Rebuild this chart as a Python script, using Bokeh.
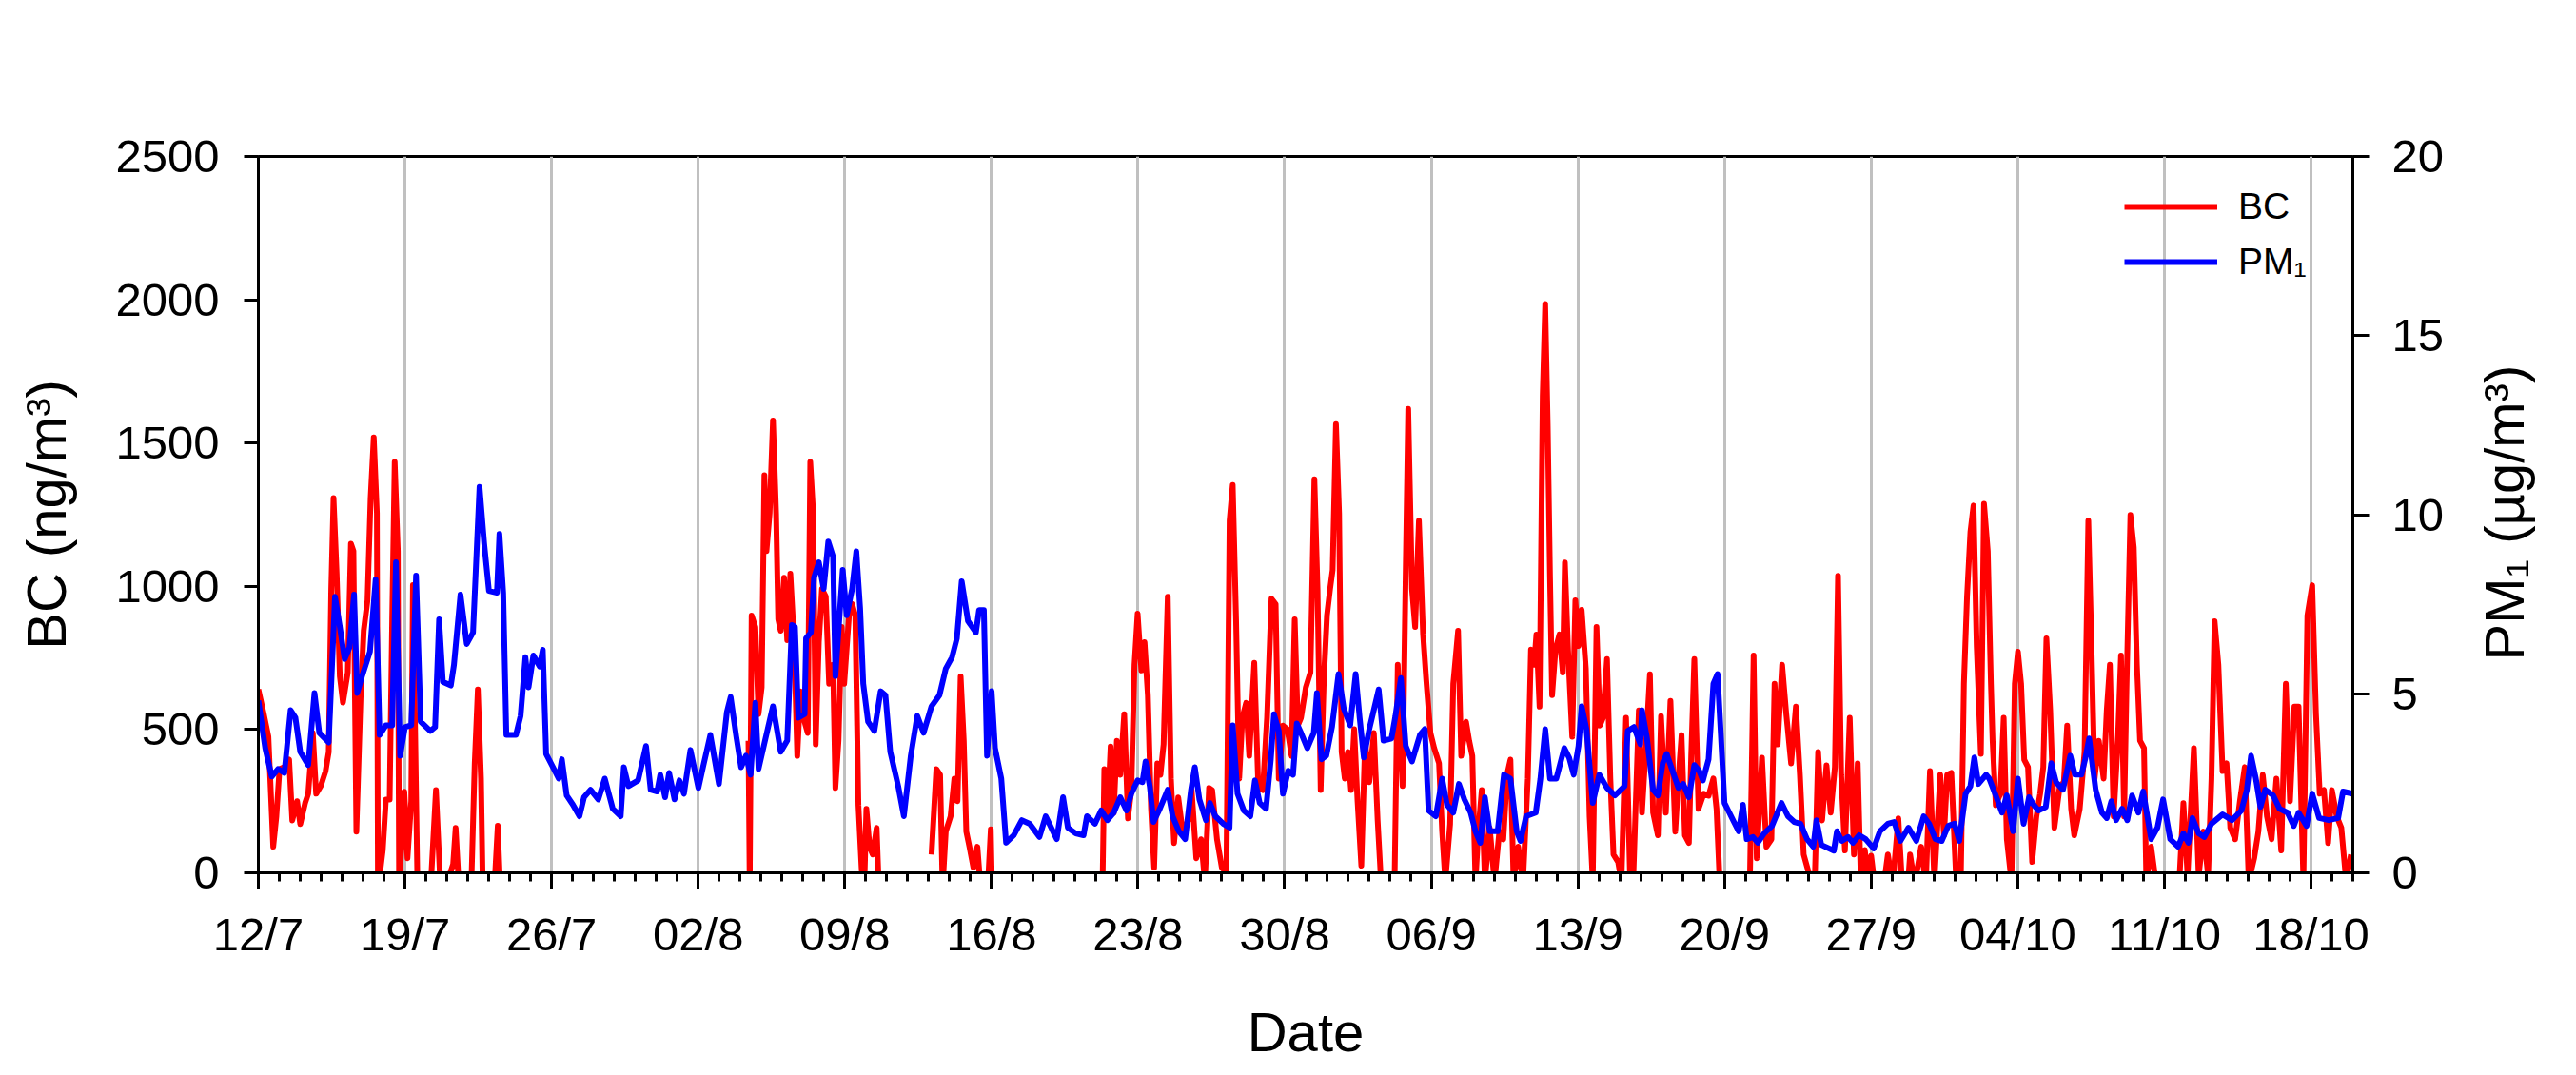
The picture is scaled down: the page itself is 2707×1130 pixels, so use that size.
import math
import numpy as np
from bokeh.plotting import figure
from bokeh.models import Range1d, LinearAxis, FixedTicker, Legend, LegendItem
from bokeh.embed import file_html
from bokeh.resources import INLINE

FONT = "Liberation Sans"

# ---------------- data (x = days since 12 July) ----------------
tick_days = [0, 7, 14, 21, 28, 35, 42, 49, 56, 63, 70, 77, 84, 91, 98]
tick_labels = ["12/7", "19/7", "26/7", "02/8", "09/8", "16/8", "23/8", "30/8",
               "06/9", "13/9", "20/9", "27/9", "04/10", "11/10", "18/10"]
bc_ticks = [0, 500, 1000, 1500, 2000, 2500]
pm_ticks = [0, 5, 10, 15, 20]

# Black carbon, ng/m3 (None = no data; values below 0 fall under the axis)
bc_day = [
    0.00, 0.26, 0.48, 0.71, 0.86, 1.01, 1.24, 1.47, 1.62, 1.85, 2.00, 2.23, 2.38, 2.60, 2.76,
    2.98, 3.21, 3.36, 3.48, 3.59, 3.74, 3.89, 4.04, 4.27, 4.42, 4.54, 4.68, 4.88, 5.03, 5.21,
    5.36, 5.51, 5.66, 5.71, 5.94, 6.09, 6.27, 6.39, 6.51, 6.66, 6.72, 6.97, 7.12, 7.30, 7.38,
    7.60, 7.95, 8.25, 8.48, 8.69, 8.95, 9.12, 9.30, 9.42, 9.57, 9.90, 10.18, 10.33, 10.48, 10.63,
    10.71, 11.00, 11.30, 11.43, 11.54, 11.60,
    23.40, 23.46, 23.55, 23.73, 23.88, 24.03, 24.16, 24.26, 24.41, 24.57, 24.72, 24.82, 24.94,
    25.10, 25.25, 25.40, 25.58, 25.73, 25.88, 26.08, 26.23, 26.35, 26.49, 26.61, 26.76, 26.91,
    27.09, 27.25, 27.44, 27.55, 27.70, 27.85, 27.97, 28.20, 28.35, 28.50, 28.65, 28.80, 28.91,
    29.03, 29.18, 29.33, 29.52, 29.64, 29.80,
    32.14, 32.37, 32.55, 32.67, 32.82, 33.05, 33.23, 33.38, 33.53, 33.68, 33.80, 33.95, 34.14,
    34.33, 34.48, 34.79, 34.97, 35.04, 35.20,
    40.31, 40.39, 40.54, 40.69, 40.84, 40.99, 41.15, 41.34, 41.52, 41.68, 41.83, 41.98, 42.16,
    42.31, 42.47, 42.62, 42.77, 42.92, 43.07, 43.22, 43.42, 43.57, 43.72, 43.92, 44.13, 44.40,
    44.56, 44.78, 45.01, 45.19, 45.39, 45.54, 45.77, 46.00, 46.22, 46.37, 46.52, 46.68, 46.83,
    46.98, 47.16, 47.31, 47.55, 47.74, 47.96, 48.16, 48.37, 48.57, 48.72, 48.92, 49.13, 49.33,
    49.48, 49.63, 49.78, 50.01, 50.23, 50.42, 50.57, 50.72, 50.87, 51.02, 51.17, 51.29, 51.45,
    51.60, 51.72, 51.87, 52.02, 52.17, 52.32, 52.48, 52.66, 52.84, 53.04, 53.26, 53.44, 53.60,
    53.95, 54.25, 54.40, 54.63, 54.78, 54.90, 55.08, 55.23, 55.41, 55.61, 55.76, 55.96, 56.14,
    56.37, 56.52, 56.67, 56.90, 57.05, 57.28, 57.43, 57.66, 57.81, 57.96, 58.11, 58.26, 58.41,
    58.56, 58.79, 59.02, 59.25, 59.44, 59.62, 59.78, 59.93, 60.15, 60.38, 60.61, 60.76, 60.91,
    61.02, 61.17, 61.32, 61.44, 61.56, 61.67, 61.77, 61.93, 62.12, 62.28, 62.38, 62.53, 62.73,
    62.88, 63.03, 63.18, 63.38, 63.56, 63.71, 63.89, 64.05, 64.20, 64.39, 64.55, 64.70, 64.92,
    65.08, 65.30, 65.50, 65.65, 65.91,
    66.06, 66.21, 66.44, 66.59, 66.82, 66.97, 67.20, 67.42, 67.65, 67.80, 67.95, 68.11, 68.30,
    68.41, 68.56, 68.76, 69.01, 69.24, 69.47, 69.62, 69.77, 70.05, 70.38, 70.60, 70.90, 71.21,
    71.39, 71.54, 71.79, 72.00, 72.24, 72.39, 72.54, 72.75, 72.95, 73.18, 73.41, 73.60, 73.78,
    74.06, 74.31, 74.47, 74.66, 74.87, 75.07, 75.27, 75.42, 75.57, 75.75, 75.98, 76.18, 76.36,
    76.51, 76.70, 76.85, 77.00, 77.15, 77.27, 77.50, 77.80, 78.03, 78.30, 78.48, 78.70, 78.86,
    79.08, 79.39, 79.61, 79.81, 80.02, 80.30, 80.48, 80.63, 80.83, 81.05, 81.28, 81.43, 81.58,
    81.74, 81.89, 82.04, 82.24, 82.39, 82.57, 82.72,
    82.80, 82.95, 83.17, 83.33, 83.48, 83.70, 83.86, 84.01, 84.16, 84.31, 84.49, 84.69, 84.89,
    85.07, 85.22, 85.37, 85.55, 85.75, 86.01, 86.20, 86.36, 86.55, 86.70, 86.96, 87.19, 87.37,
    87.52, 87.67, 87.87, 88.10, 88.25, 88.40, 88.58, 88.78, 88.93, 89.08, 89.19, 89.38, 89.54,
    89.69, 89.84, 90.03, 90.14, 90.37, 90.59, 90.90, 91.30, 91.58, 91.73, 91.91, 92.11, 92.41,
    92.64, 92.87, 93.09, 93.25, 93.40, 93.58, 93.78, 93.97, 94.15, 94.38, 94.61, 94.84, 95.03,
    95.29, 95.49, 95.70, 95.90, 96.12, 96.35, 96.58, 96.80, 97.00, 97.21, 97.41, 97.64, 97.83,
    98.06, 98.24, 98.42, 98.62, 98.82, 99.00, 99.23, 99.45, 99.68, 99.91,
]
bc_val = [
    640, 554, 475, 91, 197, 362, 369, 395, 183, 250, 170, 243, 276, 488, 276,
    303, 355, 422, 991, 1308, 1043, 686, 594, 700, 1149, 1123, 144, 607, 845, 951,
    1308, 1520, 1255, -60, 78, 256, 256, 885, 1434, 1123, -60, 283, 51, 250, 1004,
    -60, -150, -20, 289, -40, -150, -10, 30, 157, -40, -150, -10, 382, 640, 329,
    -40, -150, -10, 164, -40, None,
    461, -50, 898, 858, 554, 647, 1388, 1123, 1255, 1579, 1255, 885, 845,
    1030, 812, 1044, 805, 408, 633, 527, 488, 1434, 1255, 448, 805, 991,
    964, 660, 726, 296, 461, 858, 660, 898, 938, 898, 236, 18, -100,
    223, 91, 64, 157, -80, None,
    64, 362, 342, -50, 144, 197, 329, 250, 686, 461, 144, 91, 18,
    91, -50, -100, 152, -100, None,
    -20, 362, 197, 441, 210, 461, 342, 554, 190, 289, 726, 905, 706,
    805, 620, 223, 18, 382, 342, 448, 964, 329, 104, 263, 144, 183,
    289, 51, 117, -30, 296, 289, 117, 18, 0, 1229, 1354, 885, 329,
    541, 593, 408, 733, 303, 289, 541, 957, 938, 329, 514, 501, 408,
    885, 514, 541, 647, 699, 1374, 991, 289, 673, 898, 991, 1057, 1566,
    1255, 422, 329, 422, 289, 501, 250, 25, 461, 316, 488, 183, -30,
    -100, -20, 726, 303, 1057, 1619, 991, 858, 1229, 832, 673, 488, 435,
    382, 144, -30, 170, 660, 845, 408, 527, 461, 408, -30, 157, 289,
    -30, 157, -30, 144, 117, 342, 395, -30, 91, -30, 329, 779, 726,
    832, 580, 1665, 1985, 1559, 1030, 620, 779, 832, 699, 1083, 779, 475,
    951, 792, 918, 713, 197, -30, 858, 514, 541, 746, 329, 64, 38,
    -30, 541, -40, -10, 567,
    210, 395, 693, 210, 131, 547, 210, 600, 144, 329, 481, 131, 104,
    408, 746, 223, 276, 269, 329, 223, -30, -120, -20, -40, -150, -40,
    759, 51, 402, 91, 117, 660, 448, 726, 554, 382, 580, 342, 64,
    -10, -30, 422, 183, 375, 210, 369, 1037, 342, 78, 541, 64, 382,
    -40, 80, -30, 60, -30, -60, -100, 64, -40, 190, -40, -100, 64,
    -40, 91, -40, 355, -30, 342, 131, 342, 349, -10, -30, 660, 964,
    1189, 1282, 792, 415, 1288, 1123, 660,
    461, 236, 276, 541, 117, -30, 660, 772, 660, 395, 369, 38, 197,
    276, 369, 818, 567, 157, 303, 316, 514, 223, 131, 223, 422, 1229,
    792, 329, 461, 329, 567, 726, 197, 461, 759, 197, 633, 1249, 1136,
    726, 461, 435, -30, 91, -30, -100, -100, -60, -10, 243, -10, 435,
    -10, 144, -10, 329, 878, 726, 355, 382, 157, 117, 250, 369, -30,
    51, 144, 342, 197, 117, 329, 78, 660, 250, 580, 580, -30, 898,
    1004, 554, 276, 289, 104, 289, 197, 157, -30, 64,
]

# PM1, ug/m3
pm_day = [
    0.00, 0.33, 0.64, 0.94, 1.24, 1.54, 1.77, 2.00, 2.38, 2.68, 2.91, 3.36, 3.66, 3.89, 4.12,
    4.35, 4.57, 4.72, 4.95, 5.33, 5.60, 5.79, 6.09, 6.39, 6.57, 6.77, 7.00, 7.30, 7.53, 7.75,
    8.21, 8.44, 8.63, 8.81, 9.19, 9.34, 9.65, 9.95, 10.25, 10.56, 10.78, 11.01, 11.39, 11.51,
    11.69, 11.84, 12.30, 12.52, 12.75, 12.90, 13.13, 13.43, 13.58, 13.74, 14.11, 14.34, 14.49,
    14.72, 15.02, 15.33, 15.55, 15.86, 16.23, 16.54,
    16.92, 17.30, 17.45, 17.67, 18.13, 18.51, 18.73, 19.04, 19.19, 19.42, 19.61, 19.87, 20.10,
    20.32, 20.63, 21.01, 21.23, 21.58, 21.99, 22.37, 22.55, 22.82, 23.05, 23.28, 23.50, 23.73,
    23.88, 24.19, 24.57, 24.94, 25.25, 25.47, 25.62, 25.78, 26.08, 26.15, 26.38, 26.53, 26.76,
    26.99, 27.21, 27.44, 27.55, 27.90, 28.09, 28.35, 28.55, 28.73, 28.88, 29.11, 29.41, 29.71,
    29.94, 30.17, 30.55, 30.82, 31.15, 31.46, 31.76, 32.14, 32.52, 32.82,
    33.12, 33.35, 33.58, 33.88, 34.26, 34.41, 34.64, 34.79, 35.01, 35.17, 35.47, 35.70, 36.07,
    36.45, 36.83, 37.29, 37.59, 38.12, 38.42, 38.65, 39.03, 39.40, 39.56, 39.94, 40.24, 40.54,
    40.84, 41.15, 41.45, 41.68, 41.98, 42.21, 42.36, 42.56, 42.74, 43.04, 43.42, 43.65, 43.95,
    44.25, 44.53, 44.71, 44.93, 45.24, 45.43, 45.69, 46.07, 46.37, 46.52, 46.75, 47.05, 47.36,
    47.58, 47.81, 48.11, 48.34, 48.49, 48.72, 48.92, 49.17, 49.40, 49.58, 49.78,
    50.08, 50.39, 50.54, 50.76, 50.99, 51.26, 51.57, 51.82, 52.13, 52.39, 52.58, 52.78, 53.04,
    53.49, 53.72, 54.10, 54.29, 54.55, 54.78, 55.08, 55.46, 55.69, 55.87, 56.22, 56.52, 56.75,
    57.05, 57.32, 57.58, 57.88, 58.11, 58.34, 58.56, 58.79, 59.17, 59.47, 59.78, 60.08, 60.26,
    60.53, 60.99, 61.21, 61.44, 61.67, 61.97, 62.35, 62.58, 62.80, 63.03, 63.18, 63.41, 63.71,
    64.02, 64.39, 64.77, 65.23, 65.38, 65.68, 65.98,
    66.06, 66.29, 66.59, 66.82, 67.05, 67.24, 67.58, 67.80, 68.03, 68.30, 68.56, 68.79, 68.97,
    69.24, 69.47, 69.67, 69.85, 70.00, 70.23, 70.45, 70.68, 70.88, 71.06, 71.36, 71.59, 71.89,
    72.27, 72.72, 73.03, 73.33, 73.63, 73.94, 74.24, 74.39, 74.62, 75.00, 75.22, 75.37, 75.60,
    75.90, 76.13, 76.43, 76.74, 77.12, 77.42, 77.80, 78.10, 78.40, 78.78, 79.16, 79.51, 79.77,
    80.07, 80.37, 80.68, 80.98, 81.21, 81.51, 81.74, 81.93, 82.12, 82.49,
    82.64, 82.95, 83.25, 83.48, 83.78, 84.01, 84.28, 84.54, 84.76, 84.99, 85.34, 85.60, 85.83,
    86.16, 86.51, 86.73, 87.04, 87.22, 87.41, 87.72, 88.02, 88.25, 88.47, 88.70, 88.98, 89.23,
    89.46, 89.76, 89.99, 90.37, 90.67, 90.94, 91.28, 91.66, 91.91, 92.15, 92.34, 92.64, 92.91,
    93.25, 93.78, 94.23, 94.68, 94.94, 95.14, 95.37, 95.59, 95.82, 96.20, 96.50, 96.88, 97.18,
    97.41, 97.79, 98.06, 98.39, 98.85, 99.30, 99.53, 99.98,
]
pm_val = [
    4.81, 3.48, 2.69, 2.90, 2.79, 4.54, 4.33, 3.38, 3.01, 5.02, 3.91, 3.64, 7.71, 6.87, 5.97,
    6.29, 7.77, 5.02, 5.49, 6.18, 8.19, 3.85, 4.12, 4.12, 8.67, 3.27, 4.07, 4.12, 8.30, 4.22,
    3.96, 4.07, 7.08, 5.33, 5.23, 5.81, 7.77, 6.39, 6.71, 10.78, 9.20, 7.87, 7.82, 9.46,
    7.82, 3.85, 3.85, 4.38, 6.02, 5.18, 6.07, 5.76, 6.23, 3.32, 2.90, 2.63, 3.17,
    2.16, 1.90, 1.58, 2.11, 2.32, 2.05, 2.63,
    1.79, 1.58, 2.95, 2.42, 2.58, 3.54, 2.32, 2.27, 2.74, 2.11, 2.79, 2.05, 2.58,
    2.21, 3.43, 2.37, 2.95, 3.85, 2.48, 4.49, 4.91, 3.80, 2.95, 3.27, 2.74, 4.75,
    2.90, 3.69, 4.65, 3.38, 3.69, 6.92, 6.87, 4.33, 4.43, 6.55, 6.71, 8.24, 8.67,
    7.93, 9.25, 8.83, 5.49, 8.46, 7.19, 7.93, 8.98, 7.40, 5.28, 4.22, 3.96, 5.07,
    4.96, 3.38, 2.42, 1.58, 3.27, 4.38, 3.91, 4.65, 4.96, 5.70,
    6.02, 6.55, 8.14, 7.03, 6.71, 7.34, 7.34, 3.27, 5.07, 3.48, 2.63, 0.84, 1.05,
    1.47, 1.37, 1.00, 1.58, 0.94, 2.11, 1.26, 1.10, 1.05, 1.58, 1.37, 1.74, 1.47,
    1.68, 2.11, 1.74, 2.21, 2.58, 2.53, 3.11, 2.42, 1.42, 1.79, 2.32, 1.58, 1.16,
    0.94, 2.32, 2.95, 2.05, 1.47, 1.95, 1.58, 1.37, 1.26, 4.12, 2.21, 1.74, 1.58,
    2.58, 1.95, 1.79, 3.17, 4.43, 3.96, 2.21, 2.85, 2.74, 4.17, 3.91,
    3.48, 3.91, 5.02, 3.17, 3.27, 4.07, 5.55, 4.59, 4.12, 5.55, 4.33, 3.22, 4.01,
    5.12, 3.69, 3.75, 4.38, 5.44, 3.54, 3.11, 3.85, 4.01, 1.74, 1.58, 2.63, 1.90,
    1.68, 2.48, 2.05, 1.68, 1.16, 0.84, 2.11, 1.16, 1.16, 2.74, 2.63, 1.16, 0.89,
    1.58, 1.68, 2.63, 4.01, 2.63, 2.63, 3.48, 3.22, 2.74, 3.54, 4.65, 4.01, 1.95,
    2.74, 2.37, 2.16, 2.42, 3.96, 4.07, 3.59,
    4.54, 3.80, 2.32, 2.16, 3.06, 3.32, 2.74, 2.37, 2.48, 2.11, 3.01, 2.85, 2.58,
    3.17, 5.28, 5.55, 3.59, 1.95, 1.68, 1.42, 1.16, 1.90, 0.94, 1.00, 0.84, 1.10,
    1.31, 1.95, 1.58, 1.42, 1.37, 0.94, 0.73, 1.47, 0.78, 0.68, 0.62, 1.16, 0.89,
    1.00, 0.84, 1.05, 0.94, 0.68, 1.16, 1.37, 1.42, 0.89, 1.26, 0.89, 1.58, 1.37,
    0.94, 0.89, 1.31, 1.37, 0.89, 2.21, 2.42, 3.22, 2.48, 2.74,
    2.63, 2.16, 1.68, 2.16, 1.16, 2.63, 1.37, 2.11, 1.90, 1.74, 1.84, 3.06, 2.53,
    2.32, 3.27, 2.74, 2.74, 3.17, 3.75, 2.32, 1.68, 1.53, 2.00, 1.47, 1.79, 1.47,
    2.16, 1.68, 2.27, 0.94, 1.26, 2.05, 0.94, 0.73, 1.10, 0.84, 1.53, 1.10, 1.00,
    1.37, 1.63, 1.47, 1.74, 2.32, 3.27, 2.63, 1.84, 2.32, 2.16, 1.79, 1.68, 1.31,
    1.68, 1.31, 2.21, 1.53, 1.47, 1.53, 2.27, 2.21,
]

# ---------------- layout constants ----------------
W, H = 2707, 1130
FL, FR, FT, FB = 271, 2472, 164, 917          # frame edges in px
X0, X1 = 0, 100
Y0, Y1 = 0, 2500
P0, P1 = 0, 20

p = figure(width=W, height=H, output_backend="svg", toolbar_location=None,
           x_range=Range1d(X0, X1), y_range=Range1d(Y0, Y1),
           min_border_left=FL, min_border_right=W - FR,
           min_border_top=FT, min_border_bottom=H - FB)
p.extra_y_ranges = {"pm": Range1d(P0, P1)}
p.background_fill_color = "white"
p.border_fill_color = "white"
p.outline_line_color = "black"
p.outline_line_width = 3

r_bc = p.line(np.array(bc_day, dtype=float), np.array(bc_val, dtype=float),
              line_color="#ff0000", line_width=6, line_join="round")
r_pm = p.line(np.array(pm_day, dtype=float), np.array(pm_val, dtype=float),
              line_color="#0000ff", line_width=6, line_join="round", y_range_name="pm")

right = LinearAxis(y_range_name="pm")
p.add_layout(right, "right")

xa = p.xaxis[0]
ya = p.yaxis[0]
xa.ticker = FixedTicker(ticks=tick_days, minor_ticks=list(range(0, 101)))
xa.major_label_overrides = {d: lab for d, lab in zip(tick_days, tick_labels)}
ya.ticker = FixedTicker(ticks=bc_ticks, minor_ticks=[])
right.ticker = FixedTicker(ticks=pm_ticks, minor_ticks=[])

for ax in (xa, ya, right):
    ax.axis_line_width = 3
    ax.axis_line_color = "black"
    ax.major_tick_line_width = 3
    ax.major_tick_line_color = "black"
    ax.major_tick_in = 0
    ax.major_label_text_font = FONT
    ax.major_label_text_font_size = "49px"
    ax.major_label_text_color = "black"
    ax.axis_label_text_font = FONT
    ax.axis_label_text_font_size = "58px"
    ax.axis_label_text_font_style = "normal"
    ax.axis_label_text_color = "black"

xa.major_tick_out = 17
xa.minor_tick_out = 9
xa.minor_tick_in = 0
xa.minor_tick_line_width = 3
xa.minor_tick_line_color = "black"
xa.major_label_standoff = 20
xa.axis_label = "Date"
xa.axis_label_standoff = 40

ya.major_tick_out = 15
ya.minor_tick_line_color = None
ya.major_label_standoff = 26
ya.axis_label = "BC (ng/m³)"
ya.axis_label_standoff = 37

right.major_tick_out = 17
right.minor_tick_line_color = None
right.major_label_standoff = 24

# Right-hand title, reading bottom-to-top like the left one.  It is drawn as a
# single rotated label of an otherwise invisible outer axis; the label starts
# at its anchor, so the anchor sits half the text length below the centre.
PM_TITLE = "PM₁ (µg/m³)"
title_len_px = 307
anchor_px = (FT + FB) / 2 + title_len_px / 2
anchor_val = P0 + (FB - anchor_px) / (FB - FT) * (P1 - P0)
title_ax = LinearAxis(y_range_name="pm")
title_ax.ticker = FixedTicker(ticks=[anchor_val], minor_ticks=[])
title_ax.major_label_overrides = {anchor_val: PM_TITLE}
title_ax.major_label_orientation = math.pi / 2
title_ax.major_label_text_font = FONT
title_ax.major_label_text_font_size = "58px"
title_ax.major_label_text_color = "black"
title_ax.major_label_standoff = 60
title_ax.axis_line_color = None
title_ax.major_tick_line_color = None
title_ax.minor_tick_line_color = None
title_ax.major_tick_out = 0
title_ax.major_tick_in = 0
p.add_layout(title_ax, "right")

p.xgrid.ticker = FixedTicker(ticks=tick_days[1:])
p.xgrid.grid_line_color = "#c0c0c0"
p.xgrid.grid_line_width = 3
p.ygrid.visible = False

# legend: glyph starts at 2242 px, first item centred at 219 px, pitch 58 px
item_h, gap, pad = 50, 8, 10
leg_h = 2 * item_h + gap + 2 * pad
leg_top = 219 - item_h / 2 - pad - 12
legend = Legend(items=[LegendItem(label="BC", renderers=[r_bc]),
                       LegendItem(label="PM₁", renderers=[r_pm])],
                location=(2242 - pad - FL, FB - (leg_top + leg_h)),
                border_line_color=None, background_fill_alpha=0,
                label_text_font=FONT, label_text_font_size="39px",
                label_text_color="black",
                glyph_width=98, glyph_height=item_h, label_height=item_h,
                spacing=gap, padding=pad, margin=0, label_standoff=22)
p.add_layout(legend)

open("out.html", "w").write(file_html(p, INLINE))
